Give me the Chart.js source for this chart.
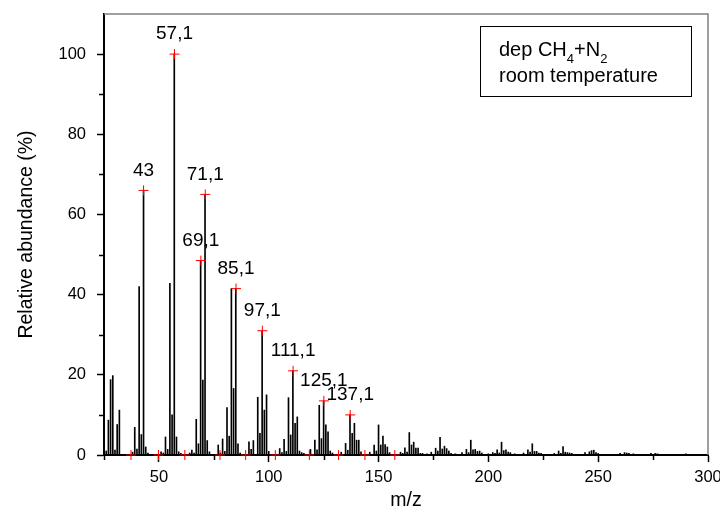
<!DOCTYPE html>
<html>
<head>
<meta charset="utf-8">
<script src="https://cdn.jsdelivr.net/npm/chart.js@4.4.1/dist/chart.umd.min.js"></script>
<style>
  html, body { margin: 0; padding: 0; background: #fff; }
  #spectrumChart { display: block; }
</style>
</head>
<body>
<canvas id="spectrumChart" width="720" height="523"></canvas>
<script>
// --- data ---
const mz = [26, 27, 28, 29, 30, 31, 32, 38, 39, 40, 41, 42, 43, 44, 45,
    51, 52, 53, 54, 55, 56, 57, 58, 59, 60, 64, 65, 66, 67, 68, 69, 70, 71, 72, 73,
    77, 78, 79, 80, 81, 82, 83, 84, 85, 86, 87, 91, 92, 93, 95, 96, 97, 98, 99, 100,
    105, 106, 107, 108, 109, 110, 111, 112, 113, 114, 115, 116,
    119, 121, 122, 123, 124, 125, 126, 127, 128, 129,
    133, 135, 136, 137, 138, 139, 140, 141, 142,
    146, 148, 149, 150, 151, 152, 153, 154, 155,
    160, 161, 162, 163, 164, 165, 166, 167, 168, 169, 170, 172,
    174, 176, 177, 178, 179, 180, 181, 182, 183, 185,
    188, 190, 191, 192, 193, 194, 195, 196, 197,
    200, 202, 203, 204, 205, 206, 207, 208, 209, 210, 212,
    216, 218, 219, 220, 221, 222, 223, 224,
    230, 232, 233, 234, 235, 236, 237, 238,
    244, 246, 247, 248, 249, 250, 260, 262, 263, 264, 266, 274, 276, 277, 290];
const abundance = [1.0, 8.7, 18.8, 19.8, 1.2, 7.6, 11.2, 0.7, 6.9, 1.5, 42, 5.1, 66, 2, 0.5,
    0.8, 0.5, 4.5, 1.4, 42.8, 10, 100, 4.5, 0.8, 0.4, 0.5, 1.2, 0.5, 8.9, 2.8, 48.5, 18.7, 65, 3.6, 0.8,
    2.5, 0.5, 4, 0.9, 11.8, 4.7, 41.5, 16.6, 41.5, 2.8, 0.5, 3.3, 1.4, 3.6, 14.4, 5.4, 31, 11.2, 15, 0.9,
    1.6, 0.6, 3.9, 0.9, 14.3, 5, 21, 7.9, 9.5, 1, 0.6, 0.4,
    1.4, 3.7, 1.3, 12.4, 4.1, 13.5, 7.5, 5.8, 1, 0.5,
    0.7, 2.9, 1.2, 10, 5.4, 7.9, 3.7, 3.7, 0.8,
    0.7, 2.5, 1, 7.5, 2.5, 4.7, 2.6, 2, 0.6,
    0.7, 0.4, 1.8, 0.7, 5.6, 2.5, 3.2, 1.7, 1.7, 0.4, 0.4, 0.3,
    0.7, 1.7, 1, 4.4, 1.5, 2.2, 1.6, 1, 0.4, 0.3,
    0.6, 1.4, 0.6, 3.7, 1.3, 1.4, 0.9, 1, 0.5,
    0.3, 0.6, 0.4, 1.3, 0.5, 3.2, 1.1, 1.3, 0.7, 0.6, 0.3,
    0.5, 1.3, 0.7, 2.8, 0.9, 0.9, 0.5, 0.4,
    0.4, 1, 0.4, 2.1, 0.7, 0.6, 0.5, 0.4,
    0.6, 0.8, 1.1, 1.2, 0.6, 0.4, 0.4, 0.6, 0.5, 0.4, 0.3, 0.4, 0.4, 0.3, 0.3];

// picked peaks (red crosses + labels)
const peakMz = [43, 57.1, 69.1, 71.1, 85.1, 97.1, 111.1, 125.1, 137.1];
const peakVal = [66, 100, 48.5, 65, 41.5, 31, 21, 13.5, 10];
const peakText = ['43', '57,1', '69,1', '71,1', '85,1', '97,1', '111,1', '125,1', '137,1'];
// picked valleys on the baseline
const valleyMz = [37.3, 49.8, 61.8, 77.8, 89.5, 103, 118.5, 131.8, 143.8, 157.4];

const xTicks = [50, 100, 150, 200, 250, 300];
const xMinor = [25, 75, 125, 175, 225, 275];
const yTicks = [0, 20, 40, 60, 80, 100];
const yMinor = [10, 30, 50, 70, 90];

const FONT = "'Liberation Sans', Arial, sans-serif";

document.addEventListener('DOMContentLoaded', function () {

    const ctx = document.getElementById('spectrumChart');

    // --- peak labels, frame, minor ticks, legend box ---
    const extras = {
        id: 'extras',
        afterDatasetsDraw(chart) {
            const c = chart.ctx;
            const xs = chart.scales.x, ys = chart.scales.y;
            c.save();
            c.fillStyle = '#000';
            c.font = '19px ' + FONT;
            c.textAlign = 'center';
            c.textBaseline = 'middle';
            peakMz.forEach(function (m, i) {
                c.fillText(peakText[i], xs.getPixelForValue(m), ys.getPixelForValue(peakVal[i]) - 20);
            });
            c.restore();
        },
        afterDraw(chart) {
            const c = chart.ctx;
            const a = chart.chartArea;
            const xs = chart.scales.x, ys = chart.scales.y;
            c.save();
            // grey top / right frame
            c.strokeStyle = '#808080';
            c.lineWidth = 1.5;
            c.beginPath();
            c.moveTo(a.left, a.top);
            c.lineTo(a.right, a.top);
            c.lineTo(a.right, a.bottom);
            c.stroke();
            // minor ticks
            c.strokeStyle = '#000';
            c.lineWidth = 1.5;
            c.beginPath();
            xMinor.forEach(function (v) {
                const px = Math.round(xs.getPixelForValue(v)) + 0.5;
                c.moveTo(px, a.bottom);
                c.lineTo(px, a.bottom + 5);
            });
            yMinor.forEach(function (v) {
                const py = Math.round(ys.getPixelForValue(v)) + 0.5;
                c.moveTo(a.left, py);
                c.lineTo(a.left - 5, py);
            });
            c.stroke();
            // legend box
            const bx = a.right - 228, by = a.top + 12;
            c.lineWidth = 1;
            c.strokeRect(bx + 0.5, by + 0.5, 211, 70);
            c.fillStyle = '#000';
            c.textAlign = 'left';
            c.textBaseline = 'alphabetic';
            let tx = bx + 19;
            const base1 = by + 30;
            const parts = [['dep CH', 0], ['4', 1], ['+N', 0], ['2', 1]];
            parts.forEach(function (p) {
                c.font = (p[1] ? '13px ' : '20px ') + FONT;
                c.fillText(p[0], tx, base1 + (p[1] ? 7 : 0));
                tx += c.measureText(p[0]).width;
            });
            c.font = '20px ' + FONT;
            c.fillText('room temperature', bx + 19, by + 56);
            c.restore();
        }
    };

    new Chart(ctx, {
        type: 'bar',
        data: {
            datasets: [{
                type: 'scatter',
                data: peakMz.map(function (m, i) { return { x: m, y: peakVal[i] }; })
                    .concat(valleyMz.map(function (m) { return { x: m, y: 0 }; })),
                pointStyle: 'cross',
                radius: 5,
                borderColor: '#ff0000',
                borderWidth: 1,
                clip: false,
                order: 0
            }, {
                data: mz.map(function (m, i) { return { x: m, y: abundance[i] }; }),
                backgroundColor: '#000',
                borderWidth: 0,
                barThickness: 1,
                order: 1
            }]
        },
        options: {
            responsive: false,
            animation: false,
            events: [],
            layout: { padding: { left: 0, right: 12, top: 14, bottom: 0 } },
            plugins: {
                legend: { display: false },
                tooltip: { enabled: false }
            },
            scales: {
                x: {
                    type: 'linear',
                    min: 25,
                    max: 300,
                    offset: false,
                    afterFit: function (s) { s.height = 68; s.paddingLeft = 0; s.paddingRight = 0; },
                    afterBuildTicks: function (s) { s.ticks = xTicks.map(function (v) { return { value: v }; }); },
                    grid: { drawOnChartArea: false, offset: false, tickLength: 7, tickWidth: 1.5, tickColor: '#000' },
                    border: { color: '#000', width: 2 },
                    ticks: { color: '#000', font: { family: FONT, size: 16.5 }, padding: 6, maxRotation: 0 },
                    title: { display: true, text: 'm/z', color: '#000', font: { family: FONT, size: 19.5 }, padding: { top: 4, bottom: 11 } }
                },
                y: {
                    min: 0,
                    max: 110,
                    afterFit: function (s) { s.width = 104; s.paddingTop = 0; s.paddingBottom = 0; },
                    afterBuildTicks: function (s) { s.ticks = yTicks.map(function (v) { return { value: v }; }); },
                    grid: { drawOnChartArea: false, tickLength: 7, tickWidth: 1.5, tickColor: '#000' },
                    border: { color: '#000', width: 2 },
                    ticks: { color: '#000', font: { family: FONT, size: 16.5 }, padding: 11 },
                    title: { display: true, text: 'Relative abundance (%)', color: '#000', font: { family: FONT, size: 19.5 }, padding: { top: 15, bottom: 4 } }
                }
            }
        },
        plugins: [extras]
    });
});
</script>
</body>
</html>
